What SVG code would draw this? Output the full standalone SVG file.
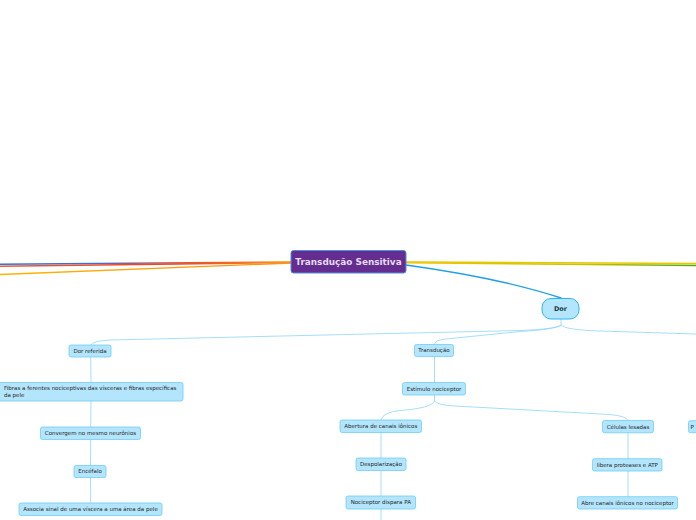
<svg xmlns="http://www.w3.org/2000/svg" width="696" height="520" viewBox="0 0 696 520">
<defs>
<linearGradient id="gBlue" gradientUnits="userSpaceOnUse" x1="291" y1="0" x2="0" y2="0"><stop offset="0" stop-color="#f7941d"/><stop offset="0.35" stop-color="#e0532a"/><stop offset="0.7" stop-color="#3a6fd8"/><stop offset="1" stop-color="#2d6fe0"/></linearGradient>
<linearGradient id="gRed" gradientUnits="userSpaceOnUse" x1="291" y1="0" x2="0" y2="0"><stop offset="0" stop-color="#f7941d"/><stop offset="0.4" stop-color="#e8452c"/><stop offset="1" stop-color="#ef5a2a"/></linearGradient>
<linearGradient id="gOrange" gradientUnits="userSpaceOnUse" x1="291" y1="0" x2="0" y2="0"><stop offset="0" stop-color="#f7941d"/><stop offset="1" stop-color="#ffb300"/></linearGradient>
<linearGradient id="gGreen" gradientUnits="userSpaceOnUse" x1="406" y1="0" x2="696" y2="0"><stop offset="0" stop-color="#f2c500"/><stop offset="0.6" stop-color="#c8c400"/><stop offset="1" stop-color="#5aa800"/></linearGradient>
</defs>
<style>
.n rect{fill:#b3e5fc;stroke:#6fcdf5;stroke-width:0.8}
.n text{font-family:"DejaVu Sans",Verdana,sans-serif;font-size:5.5px;fill:#262626;text-anchor:middle}
.c{fill:none;stroke:#8fd6f7;stroke-width:0.8}
.b{fill:none;stroke-width:1.4;stroke-linecap:round}
</style>
<rect width="696" height="520" fill="#ffffff"/>
<g id="connectors">
<path class="b" d="M291 262 L0 264.3" stroke="url(#gBlue)"/>
<path class="b" d="M291 262.5 L0 266.3" stroke="url(#gRed)"/>
<path class="b" d="M291 263 L0 274.5" stroke="url(#gOrange)"/>
<path class="b" d="M406 262 L696 263.5" stroke="#e8c600"/>
<path class="b" d="M406 262.8 L696 265.5" stroke="url(#gGreen)"/>
<path class="b" d="M406 265 Q500 278 561 298" stroke="#1ea0e6"/>
<path class="c" d="M561 319 L561 325 Q557 329 520 330.5 L110 340 Q92 341 91 345"/>
<path class="c" d="M561 325 Q555 329.5 520 331.5 L446 339 Q435 340 434.5 344.5"/>
<path class="c" d="M561 325 Q566 330 600 331 L696 334"/>
<path class="c" d="M90.7 357 L91 382.5 M91 401 L90.7 427 M90.7 439.5 L90.5 465.5 M90.5 477.5 L90.7 503"/>
<path class="c" d="M434.5 356.5 L434.5 382.5"/>
<path class="c" d="M434.5 395 L434.5 401 Q432 408 400 410.5 Q383 412 381 420"/>
<path class="c" d="M434.5 401 Q437 405 455 406 L610 414.5 Q626 416 628 420.5"/>
<path class="c" d="M381 432.5 L381 458 M381 470.5 L381 496 M381 509 L381 520"/>
<path class="c" d="M628 432.7 L628 458.7 M628 471 L628 496.7"/>
</g>
<g id="n-root">
<rect x="291" y="250.5" width="115" height="22.5" rx="2.5" fill="#662d91" stroke="#4a90e2" stroke-width="1"/>
<text x="348.5" y="265.2" font-family="'DejaVu Sans',Verdana,sans-serif" font-size="8.9" font-weight="bold" fill="#e4dcf2" text-anchor="middle">Transdução Sensitiva</text>
</g>
<g id="n-dor">
<rect x="542" y="298.5" width="37" height="20.5" rx="9" fill="#b3e5fc" stroke="#29b6f6" stroke-width="1"/>
<text x="560.5" y="311.2" font-family="'DejaVu Sans',Verdana,sans-serif" font-size="6.5" font-weight="bold" fill="#1a3a3a" text-anchor="middle">Dor</text>
</g>
<g id="n-dor-referida" class="n"><rect x="69" y="345" width="42" height="12" rx="2"/><text x="90" y="352.9">Dor referida</text></g>
<g id="n-fibras" class="n"><rect x="-3" y="382.5" width="186" height="18.5" rx="2"/><text x="4" y="390.3" style="text-anchor:start">Fibras a ferentes nociceptivas das vísceras e fibras específicas</text><text x="4" y="397" style="text-anchor:start">da pele</text></g>
<g id="n-convergem" class="n"><rect x="40.5" y="427" width="100" height="12.5" rx="2"/><text x="90.5" y="435.2">Convergem no mesmo neurônios</text></g>
<g id="n-encefalo" class="n"><rect x="74" y="465.5" width="32" height="12" rx="2"/><text x="90" y="473.4">Encéfalo</text></g>
<g id="n-associa" class="n"><rect x="19" y="503" width="143" height="12.5" rx="2"/><text x="90.5" y="511.2">Associa sinal de uma víscera a uma área da pele</text></g>
<g id="n-transducao" class="n"><rect x="414.5" y="344.5" width="39" height="12" rx="2"/><text x="434" y="352.4">Transdução</text></g>
<g id="n-estimulo" class="n"><rect x="402.5" y="382.5" width="63" height="12.5" rx="2"/><text x="434" y="390.7">Estímulo nociceptor</text></g>
<g id="n-abertura" class="n"><rect x="340" y="420" width="81.5" height="12.5" rx="2"/><text x="380.8" y="428.2">Abertura de canais iônicos</text></g>
<g id="n-despolarizacao" class="n"><rect x="356" y="458" width="50" height="12.5" rx="2"/><text x="381" y="466.2">Despolarização</text></g>
<g id="n-nociceptor-pa" class="n"><rect x="346" y="496" width="69.5" height="13" rx="2"/><text x="380.8" y="504.4">Nociceptor dispara PA</text></g>
<g id="n-celulas" class="n"><rect x="602.5" y="420.5" width="51" height="12.3" rx="2"/><text x="628" y="428.6">Células lesadas</text></g>
<g id="n-libera" class="n"><rect x="592.5" y="458.7" width="69.5" height="12.3" rx="2"/><text x="627.3" y="466.8">libera proteases e ATP</text></g>
<g id="n-abre" class="n"><rect x="577.5" y="496.7" width="100" height="12.3" rx="2"/><text x="627.5" y="504.8">Abre canais iônicos no nociceptor</text></g>
<g id="n-p" class="n"><rect x="688.5" y="420.7" width="40" height="12" rx="2"/><text x="690.5" y="428.6" style="text-anchor:start">P</text></g>
</svg>
